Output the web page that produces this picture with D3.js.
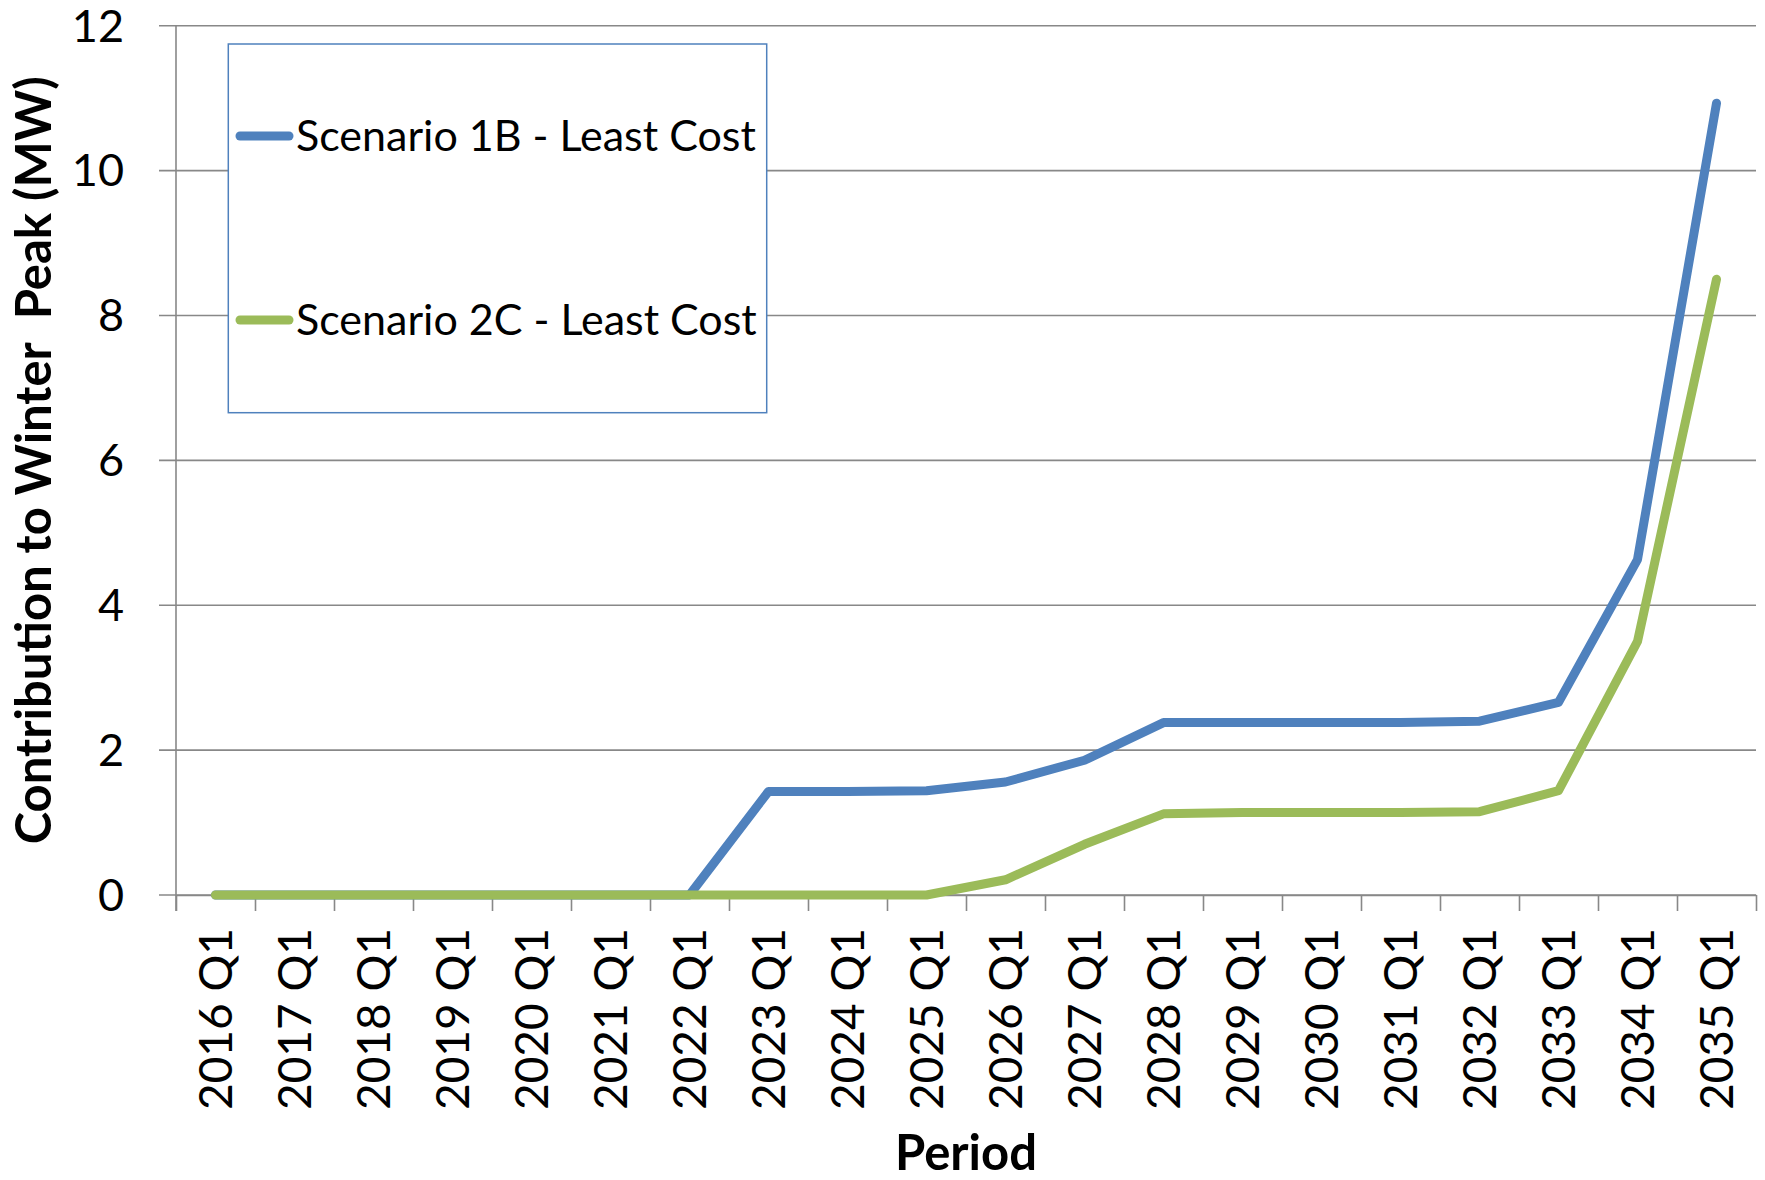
<!DOCTYPE html>
<html>
<head>
<meta charset="utf-8">
<script src="https://cdn.jsdelivr.net/npm/d3@7"></script>
<style>
  html, body { margin: 0; padding: 0; background: #ffffff; }
  svg { display: block; font-family: Lato, "Open Sans", sans-serif; }
</style>
</head>
<body>
<svg id="chart" width="1765" height="1180"></svg>
<script>
// Quarterly periods on the x axis
const periods = [
  "2016 Q1", "2017 Q1", "2018 Q1", "2019 Q1", "2020 Q1",
  "2021 Q1", "2022 Q1", "2023 Q1", "2024 Q1", "2025 Q1",
  "2026 Q1", "2027 Q1", "2028 Q1", "2029 Q1", "2030 Q1",
  "2031 Q1", "2032 Q1", "2033 Q1", "2034 Q1", "2035 Q1"
];

// Contribution to winter peak (MW) per scenario
const scenario1B = [0, 0, 0, 0, 0, 0, 0, 1.43, 1.43, 1.44, 1.56, 1.86, 2.38, 2.38, 2.38, 2.38, 2.40, 2.66, 4.63, 10.93];
const scenario2C = [0, 0, 0, 0, 0, 0, 0, 0, 0, 0, 0.21, 0.70, 1.12, 1.14, 1.14, 1.14, 1.15, 1.44, 3.50, 8.50];

const seriesNames = ["Scenario 1B - Least Cost", "Scenario 2C - Least Cost"];
const seriesColors = ["#4F81BD", "#9BBB59"];

const yTicks = [0, 2, 4, 6, 8, 10, 12];

const svg = d3.select("#chart");
const plot = { left: 176, right: 1756, top: 25.7, bottom: 895 };
const gridColor = "#888888";

const x = d3.scaleBand().domain(periods).range([plot.left, plot.right]).padding(0);
const xIdx = d3.scaleLinear().domain([0, periods.length]).range([plot.left, plot.right]);
const y = d3.scaleLinear().domain([0, 12]).range([plot.bottom, plot.top]);

// Horizontal gridlines (extend left as y-axis tick marks)
svg.append("g")
  .selectAll("line")
  .data(yTicks)
  .join("line")
  .attr("x1", plot.left - 17)
  .attr("x2", plot.right)
  .attr("y1", d => y(d))
  .attr("y2", d => y(d))
  .attr("stroke", gridColor)
  .attr("stroke-width", 1.6);

// Y axis labels
const yAxis = d3.axisLeft(y).tickValues(yTicks).tickSize(0).tickPadding(0);
const gy = svg.append("g").attr("transform", `translate(${plot.left - 52},0)`).call(yAxis);
gy.select(".domain").remove();
gy.selectAll("text")
  .attr("font-size", 45)
  .attr("font-family", "Lato, sans-serif")
  .attr("fill", "#000")
  .attr("dy", "0.34em");

// Vertical axis line (runs down through the first category tick)
svg.append("line")
  .attr("x1", plot.left).attr("x2", plot.left)
  .attr("y1", plot.top).attr("y2", plot.bottom + 16)
  .attr("stroke", gridColor).attr("stroke-width", 1.6);

// Category boundary ticks below the x axis
const xTickAxis = d3.axisBottom(xIdx)
  .tickValues(d3.range(periods.length + 1))
  .tickFormat("")
  .tickSizeInner(16)
  .tickSizeOuter(0);
const gxt = svg.append("g").attr("transform", `translate(0,${plot.bottom})`).call(xTickAxis);
gxt.select(".domain").attr("stroke", gridColor).attr("stroke-width", 1.6);
gxt.selectAll("line").attr("stroke", gridColor).attr("stroke-width", 1.6);

// Rotated category labels
const xLabelAxis = d3.axisBottom(x).tickSize(0).tickPadding(0);
const gx = svg.append("g").attr("transform", `translate(0,${plot.bottom})`).call(xLabelAxis);
gx.select(".domain").remove();
gx.selectAll("text")
  .attr("font-size", 46)
  .attr("font-family", "Lato, sans-serif")
  .attr("fill", "#000")
  .attr("text-anchor", "end")
  .attr("transform", "rotate(-90)")
  .attr("x", -33)
  .attr("y", 0)
  .attr("dy", "0.36em");

// Series lines
const line = d3.line()
  .x((d, i) => x(periods[i]) + x.bandwidth() / 2)
  .y(d => y(d));

[scenario1B, scenario2C].forEach((vals, k) => {
  svg.append("path")
    .datum(vals)
    .attr("d", line)
    .attr("fill", "none")
    .attr("stroke", seriesColors[k])
    .attr("stroke-width", 9)
    .attr("stroke-linecap", "round")
    .attr("stroke-linejoin", "round");
});

// Legend box
const legend = svg.append("g");
legend.append("rect")
  .attr("x", 228.3).attr("y", 44)
  .attr("width", 538.4).attr("height", 368.7)
  .attr("fill", "#ffffff")
  .attr("stroke", "#4F81BD")
  .attr("stroke-width", 1.5);

const legendRows = [136, 320];
seriesNames.forEach((name, k) => {
  const ly = legendRows[k];
  legend.append("line")
    .attr("x1", 240).attr("x2", 289)
    .attr("y1", ly).attr("y2", ly)
    .attr("stroke", seriesColors[k])
    .attr("stroke-width", 9)
    .attr("stroke-linecap", "round");
  legend.append("text")
    .attr("x", 296)
    .attr("y", ly)
    .attr("dy", "0.36em")
    .attr("font-size", 43)
    .attr("font-family", "Lato, sans-serif")
    .attr("fill", "#000")
    .text(name);
});

// Axis titles
svg.append("text")
  .attr("x", (plot.left + plot.right) / 2)
  .attr("y", 1170)
  .attr("text-anchor", "middle")
  .attr("font-size", 49)
  .attr("font-weight", "bold")
  .attr("font-family", "Lato, sans-serif")
  .attr("fill", "#000")
  .text("Period");

svg.append("text")
  .attr("transform", `translate(51,${(plot.top + plot.bottom) / 2}) rotate(-90)`)
  .attr("text-anchor", "middle")
  .attr("font-size", 49)
  .attr("font-weight", "bold")
  .attr("font-family", "Lato, sans-serif")
  .attr("fill", "#000")
  .attr("xml:space", "preserve")
  .style("white-space", "pre")
  .text("Contribution to Winter  Peak (MW)");
</script>
</body>
</html>
